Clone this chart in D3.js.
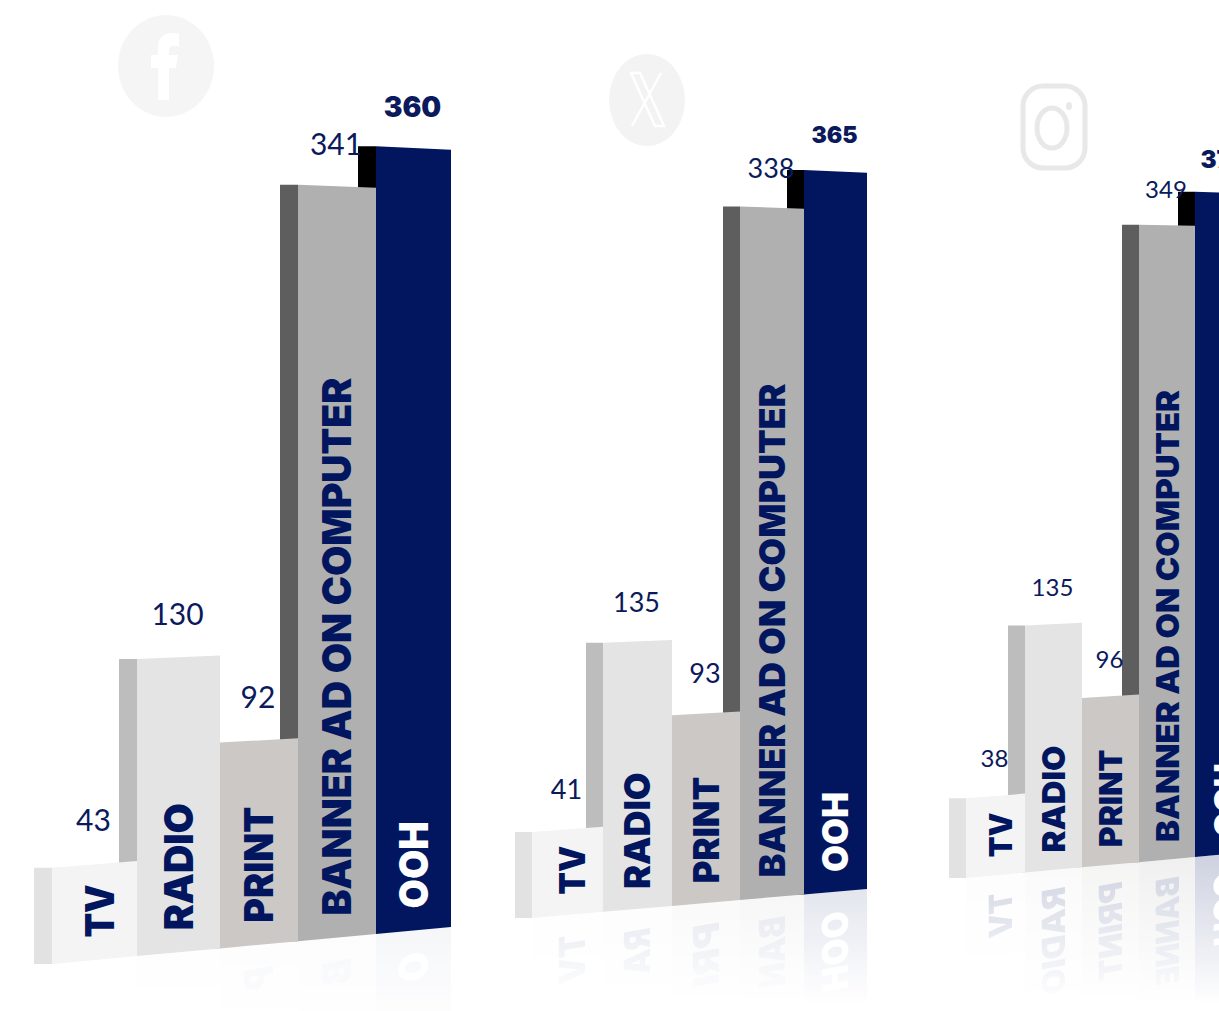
<!DOCTYPE html>
<html>
<head>
<meta charset="utf-8">
<script src="https://cdn.jsdelivr.net/npm/d3@7/dist/d3.min.js"></script>
<style>
html,body{margin:0;padding:0;background:#fff;overflow:hidden}
svg{display:block}
</style>
</head>
<body>
<svg id="chart" width="1219" height="1011"></svg>
<script>
// ---- data ----
const categories = ["TV", "RADIO", "PRINT", "BANNER AD ON COMPUTER", "OOH"];
const platforms = ["Facebook", "X", "Instagram"];
const facebookValues = [43, 130, 92, 341, 360];
const xValues = [41, 135, 93, 338, 365];
const instagramValues = [38, 135, 96, 349, 370];
const seriesValues = [facebookValues, xValues, instagramValues];

// ---- layout and style (separate from the data) ----
const frontColors = ["#f4f4f4", "#e4e4e4", "#cbc8c5", "#b0b0b0", "#021660"];
const sideColors  = ["#e2e2e2", "#bdbdbd", "#bdbab7", "#5e5e5e", "#000000"];
const labelColors = ["#021660", "#021660", "#021660", "#021660", "#ffffff"];
const labelEm = [1.33, 3.18, 2.9, 13.45, 2.18];
const panels = [
  {edges:[52,137,220,298,376,451], base0:964, slope:-0.0927, side:18,
   hDomain:[0,43,130,360], hRange:[0,95,297,821], font:40, stretch:1, vFont:30, bFont:28, gap:41, bGap:39, refl:0.04, reflH:70},
  {edges:[532,603,672,740,804,867], base0:918, slope:-0.0866, side:17,
   hDomain:[0,41,93,135,338,365], hRange:[0,85,193,269,710,750], font:36, stretch:1.02, vFont:27, bFont:23, gap:38, bGap:35, refl:0.11, reflH:85},
  {edges:[966,1025,1082,1139,1195,1255], base0:878, slope:-0.0917, side:17,
   hDomain:[0,38,96,135,349,370], hRange:[0,79,171,247,650,685], font:32, stretch:1.05, vFont:24, bFont:24, gap:35, bGap:32, refl:0.2, reflH:125}
];
const perspective = 0.00017;
const ink = "#0a1a5c";
const labelFont = "Inter, sans-serif";
const valueFont = "Lato, sans-serif";
const pageHeight = 1011;
const reflMargin = 16;

const svg = d3.select("#chart");
const defs = svg.append("defs");

panels.forEach((p, pi) => {
  const values = seriesValues[pi];
  const xEdge = d3.scaleLinear().domain(d3.range(categories.length + 1)).range(p.edges);
  const height = d3.scaleLinear().domain(p.hDomain).range(p.hRange);
  const base = x => p.base0 + p.slope * (x - p.edges[0]);
  const k = x => 1 - perspective * (x - p.edges[1]);
  const top = (x, v) => base(x) - height(v) * k(x);

  const bars = values.map((v, i) => ({
    v, i, name: categories[i], x0: xEdge(i), x1: xEdge(i + 1)
  }));
  const frontPts = d => [[d.x0, top(d.x0, d.v)], [d.x1, top(d.x1, d.v)], [d.x1, base(d.x1)], [d.x0, base(d.x0)]].join(" ");
  const sidePts = d => {
    const t = top(d.x0, d.v), b = base(d.x0);
    return [[d.x0 - p.side, t], [d.x0, t], [d.x0, b], [d.x0 - p.side, b]].join(" ");
  };
  const labelX = d => (d.x0 + d.x1) / 2 + (d.i === 0 ? 5 : 0);
  const labelOffset = p.font * 0.55;
  const labelLength = d => labelEm[d.i] * p.font * p.stretch;
  const labelTransform = d => `translate(${labelX(d)},${base(labelX(d)) - labelOffset}) rotate(-90)`;
  const styleLabels = sel => sel
    .attr("class", "cat")
    .attr("transform", labelTransform)
    .attr("dy", "0.36em")
    .attr("lengthAdjust", "spacingAndGlyphs")
    .attr("font-family", labelFont)
    .attr("font-weight", 900)
    .attr("font-size", p.font)
    .attr("fill", d => labelColors[d.i]);

  // reflection under the floor line, fading out
  const gradId = "fade" + pi, maskId = "mask" + pi;
  const xL = p.edges[0] - p.side, xR = p.edges[5];
  const baseR = base(xR), baseL = base(xL);
  const grad = defs.append("linearGradient").attr("id", gradId)
    .attr("gradientUnits", "userSpaceOnUse")
    .attr("x1", 0).attr("x2", 0).attr("y1", baseR).attr("y2", baseL + p.reflH);
  grad.append("stop").attr("offset", 0).attr("stop-color", "#fff").attr("stop-opacity", p.refl);
  grad.append("stop").attr("offset", 1).attr("stop-color", "#fff").attr("stop-opacity", 0);
  defs.append("mask").attr("id", maskId).attr("maskUnits", "userSpaceOnUse")
    .attr("x", xL).attr("y", 0).attr("width", xR - xL).attr("height", pageHeight)
    .append("rect").attr("x", xL).attr("y", 0).attr("width", xR - xL).attr("height", pageHeight)
    .attr("fill", `url(#${gradId})`);
  const f = 2 * (p.base0 - p.slope * p.edges[0]);
  const refl = svg.append("g").attr("mask", `url(#${maskId})`)
    .append("g").attr("transform", `matrix(1,${2 * p.slope},0,-1,0,${f})`);
  refl.selectAll("polygon").data(bars).join("polygon")
    .attr("points", frontPts).attr("fill", d => frontColors[d.i]);
  // only as many reflected letters as fit above the bottom of the page
  const reflChars = d => {
    const room = pageHeight - reflMargin - base(labelX(d)) - labelOffset;
    const perChar = labelLength(d) / d.name.length;
    return Math.min(d.name.length, Math.floor(room / perChar));
  };
  refl.selectAll("text.cat").data(bars.filter(d => reflChars(d) > 0)).join("text")
    .call(styleLabels)
    .attr("textLength", d => labelLength(d) * reflChars(d) / d.name.length)
    .text(d => d.name.slice(0, reflChars(d)));

  // bars: all side faces first, then the fronts on top of them
  const g = svg.append("g");
  g.selectAll("polygon.side").data(bars).join("polygon")
    .attr("class", "side").attr("points", sidePts).attr("fill", d => sideColors[d.i]);
  g.selectAll("polygon.front").data(bars).join("polygon")
    .attr("class", "front").attr("points", frontPts).attr("fill", d => frontColors[d.i]);
  g.selectAll("text.cat").data(bars).join("text")
    .call(styleLabels)
    .attr("textLength", labelLength)
    .text(d => d.name);

  // value labels
  const maxV = d3.max(values);
  g.selectAll("text.val").data(bars).join("text")
    .attr("class", "val")
    .attr("x", d => (d.x0 + d.x1) / 2 - 1)
    .attr("y", d => Math.min(top(d.x0, d.v), top(d.x1, d.v)) - (d.v === maxV ? p.bGap : p.gap))
    .attr("dy", "0.36em")
    .attr("text-anchor", "middle")
    .attr("font-family", d => d.v === maxV ? labelFont : valueFont)
    .attr("font-weight", d => d.v === maxV ? 900 : 400)
    .attr("font-size", d => d.v === maxV ? p.bFont : p.vFont)
    .attr("fill", ink)
    .text(d => d.v);
});

// ---- faint platform marks ----
const icons = svg.append("g").attr("class", "icons");
// Facebook
icons.append("ellipse").attr("cx", 166).attr("cy", 66).attr("rx", 48).attr("ry", 51).attr("fill", "#f5f5f5");
icons.append("path").attr("fill", "#fff")
  .attr("d", "M158 100V68H151V55H158V47C158 38 164 33 172 33L179 34V46H174C170 46 169 48 169 51V55H178L176 68H169V100Z");
// X
icons.append("ellipse").attr("cx", 647).attr("cy", 100).attr("rx", 38).attr("ry", 46).attr("fill", "#f3f3f3");
icons.append("path").attr("fill", "none").attr("stroke", "#fff").attr("stroke-width", 2.5)
  .attr("d", "M631 73H640L664 126H655ZM661 73L632 126");
// Instagram
icons.append("rect").attr("x", 1023).attr("y", 86).attr("width", 62).attr("height", 82).attr("rx", 20)
  .attr("fill", "none").attr("stroke", "#e8e8e8").attr("stroke-width", 5);
icons.append("ellipse").attr("cx", 1052).attr("cy", 128).attr("rx", 15).attr("ry", 20)
  .attr("fill", "none").attr("stroke", "#e8e8e8").attr("stroke-width", 5);
icons.append("ellipse").attr("cx", 1069).attr("cy", 106).attr("rx", 3).attr("ry", 4).attr("fill", "#e8e8e8");
</script>
</body>
</html>
